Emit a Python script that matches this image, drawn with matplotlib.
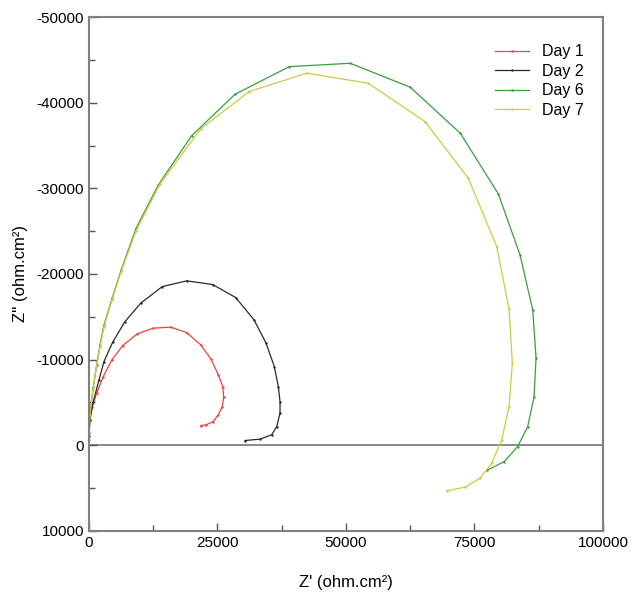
import matplotlib
matplotlib.use("Agg")
import matplotlib.pyplot as plt
from matplotlib.ticker import MultipleLocator

plt.rcParams["font.family"] = ["Liberation Sans", "DejaVu Sans"]
plt.rcParams["axes.unicode_minus"] = False

# Nyquist data (Z', Z'')
day1_re = [0, 190, 640, 1500, 2780, 4420, 6560, 9400, 12510, 15960, 19010,
           21740, 23740, 25160, 26020, 26210, 25940, 25160, 24190, 22770, 21740]
day1_im = [-1460, -2980, -4530, -6090, -8030, -9940, -11650, -13010, -13680, -13790, -13160,
           -11730, -10060, -8230, -6860, -5620, -4530, -3560, -2780, -2390, -2310]

day2_re = [0, 190, 840, 1950, 2920, 4610, 7010, 10060, 14260, 19010, 24070,
           28550, 32110, 34450, 36060, 36840, 37170, 37170, 36530, 35550, 33280, 30360]
day2_im = [-1030, -2980, -5110, -7640, -9780, -12040, -14450, -16590, -18530, -19200, -18770,
           -17250, -14650, -11930, -9190, -6860, -5110, -3760, -2190, -1230, -720, -560]

day6_re = [0, 190, 840, 1500, 2140, 2920, 4530, 6230, 9150, 13490, 19950, 28410,
           38980, 50840, 62520, 72250, 79650, 83870, 86340, 86990, 86600, 85370,
           83420, 80820, 77390]
day6_im = [-1110, -3790, -6830, -9400, -11730, -14060, -17210, -20420, -25320, -30400,
           -36120, -40980, -44210, -44600, -41800, -36430, -29350, -22230, -15810,
           -10180, -5690, -2190, 140, 1890, 2940]

day7_re = [0, 190, 780, 1460, 2140, 2920, 4480, 6230, 9150, 13820, 21740, 31140,
           42370, 54350, 65390, 73810, 79340, 81730, 82380, 81730, 80310, 78370,
           76090, 73170, 69610]
day7_im = [-640, -3560, -6480, -9160, -11490, -13830, -16980, -20250, -25030, -30520,
           -36940, -41290, -43440, -42270, -37790, -31180, -23200, -15930, -9590,
           -4530, -640, 2080, 3830, 4880, 5310]

fig = plt.figure(figsize=(6.32, 5.93), dpi=100)
ax = fig.add_axes([0.1408, 0.1046, 0.8132, 0.8667])

series = [
    ("Day 1", day1_re, day1_im, "#f04040"),
    ("Day 2", day2_re, day2_im, "#2a2a2a"),
    ("Day 6", day6_re, day6_im, "#3a9e3a"),
    ("Day 7", day7_re, day7_im, "#cccc40"),
]
for label, re, im, col in series:
    ax.plot(re, im, color=col, lw=0.9, marker=".", markersize=1.5, label=label)

ax.axhline(0, color="#808080", lw=1.3, zorder=0)

ax.set_xlim(0, 100000)
ax.set_ylim(10000, -50000)
ax.xaxis.set_major_locator(MultipleLocator(25000))
ax.xaxis.set_minor_locator(MultipleLocator(12500))
ax.yaxis.set_major_locator(MultipleLocator(10000))
ax.yaxis.set_minor_locator(MultipleLocator(5000))
ax.tick_params(which="major", direction="in", length=6, width=1, colors="#555555",
               labelcolor="black", labelsize=11)
ax.tick_params(which="minor", direction="in", length=4, width=1, colors="#555555")

for sp in ax.spines.values():
    sp.set_color("#808080")
    sp.set_linewidth(1.5)

ax.set_xlabel("Z' (ohm.cm²)", fontsize=12, labelpad=18)
ax.set_ylabel("Z'' (ohm.cm²)", fontsize=12, labelpad=6)

ax.legend(loc="upper right", frameon=False, fontsize=11.5, handlelength=2.1,
          handletextpad=0.8, labelspacing=0.28, bbox_to_anchor=(0.99, 0.975))

fig.savefig("out.png", dpi=100)
